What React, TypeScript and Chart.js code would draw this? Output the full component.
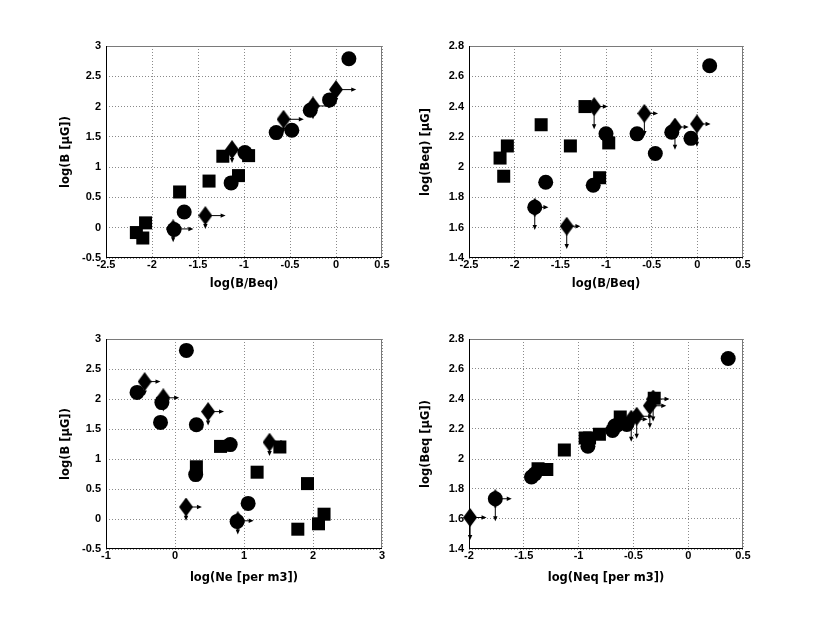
import React, { useEffect, useRef } from "react";
import { Chart, registerables } from "chart.js";
Chart.register(...registerables);

// ---------- Panel 1: log(B/Beq) vs log(B) ----------
const sq1X = [-2.17, -2.1, -2.07, -1.7, -1.38, -1.23, -1.06, -0.95];
const sq1Y = [-0.08, -0.17, 0.08, 0.59, 0.77, 1.18, 0.86, 1.19];
const ci1X = [-1.76, -1.65, -1.14, -0.99, -0.65, -0.48, -0.28, -0.07, 0.14];
const ci1Y = [-0.03, 0.26, 0.74, 1.24, 1.57, 1.61, 1.94, 2.11, 2.79];
const di1X = [-1.77, -1.42, -1.13, -0.57, -0.25, 0.0];
const di1Y = [-0.02, 0.2, 1.29, 1.79, 2.01, 2.28];

// ---------- Panel 2: log(B/Beq) vs log(Beq) ----------
const sq2X = [-2.16, -2.08, -2.12, -1.71, -1.39, -1.23, -1.07, -0.97];
const sq2Y = [2.06, 2.14, 1.94, 2.28, 2.14, 2.4, 1.93, 2.16];
const ci2X = [-1.78, -1.66, -1.14, -1.0, -0.66, -0.46, -0.28, -0.07, 0.135];
const ci2Y = [1.735, 1.9, 1.88, 2.22, 2.22, 2.09, 2.23, 2.19, 2.67];
const di2X = [-1.78, -1.43, -1.13, -0.58, -0.245, -0.005];
const di2Y = [1.735, 1.61, 2.4, 2.355, 2.265, 2.285];

// ---------- Panel 3: log(Ne) vs log(B) ----------
const sq3X = [0.66, 1.52, 1.19, 1.92, 0.31, 2.16, 2.08, 1.78];
const sq3Y = [1.21, 1.2, 0.78, 0.59, 0.87, 0.08, -0.08, -0.17];
const ci3X = [0.165, -0.55, -0.19, -0.21, 0.31, 0.8, 0.3, 1.06, 0.9];
const ci3Y = [2.81, 2.11, 1.94, 1.61, 1.57, 1.24, 0.74, 0.26, -0.04];
const di3X = [-0.44, -0.17, 0.48, 1.37, 0.16, 0.91];
const di3Y = [2.29, 2.02, 1.79, 1.28, 0.2, -0.03];

// ---------- Panel 4: log(Neq) vs log(Beq) ----------
const sq4X = [-1.13, -1.37, -1.29, -0.94, -0.9, -0.81, -0.62, -0.31];
const sq4Y = [2.06, 1.935, 1.93, 2.14, 2.14, 2.165, 2.28, 2.405];
const ci4X = [-1.76, -1.43, -1.4, -0.915, -0.69, -0.67, -0.65, -0.56, 0.365];
const ci4Y = [1.735, 1.88, 1.9, 2.085, 2.19, 2.22, 2.225, 2.23, 2.67];
const di4X = [-1.99, -1.76, -0.52, -0.47, -0.35, -0.32];
const di4Y = [1.61, 1.735, 2.265, 2.285, 2.355, 2.4];

// ---------- Tick labels ----------
const xTicksBB = [-2.5, -2, -1.5, -1, -0.5, 0, 0.5];
const yTicksB = [-0.5, 0, 0.5, 1, 1.5, 2, 2.5, 3];
const yTicksBeq = [1.4, 1.6, 1.8, 2, 2.2, 2.4, 2.6, 2.8];
const xTicksNe = [-1, 0, 1, 2, 3];
const xTicksNeq = [-2, -1.5, -1, -0.5, 0, 0.5];

const FONT = "'DejaVu Sans', sans-serif";
const TICK_FONT = "'Liberation Sans', Arial, sans-serif";
const TITLE_SIZE = 11.5;
const TICK_SIZE = 11;

function zip(xs: number[], ys: number[]) {
  return xs.map((x, i) => ({ x, y: ys[i] }));
}

function makeDiamond(w: number, h: number) {
  const c = document.createElement("canvas");
  c.width = w;
  c.height = h;
  const g = c.getContext("2d")!;
  g.fillStyle = "#000";
  g.beginPath();
  g.moveTo(w / 2, 0);
  g.lineTo(w, h / 2);
  g.lineTo(w / 2, h);
  g.lineTo(0, h / 2);
  g.closePath();
  g.fill();
  return c;
}

const arrowPlugin = {
  id: "limitArrows",
  afterDatasetsDraw(chart: any, _args: any, opts: any) {
    const ds = chart.data.datasets[opts.datasetIndex];
    if (!ds) return;
    const xs = chart.scales.x;
    const ys = chart.scales.y;
    const ctx = chart.ctx;
    ctx.save();
    ctx.strokeStyle = "#000";
    ctx.fillStyle = "#000";
    ctx.lineWidth = 1;
    const head = (x: number, y: number, dx: number, dy: number) => {
      const L = 5, W = 2.2;
      ctx.beginPath();
      ctx.moveTo(x, y);
      ctx.lineTo(x - dx * L - dy * W, y - dy * L + dx * W);
      ctx.lineTo(x - dx * L + dy * W, y - dy * L - dx * W);
      ctx.closePath();
      ctx.fill();
    };
    for (const p of ds.data) {
      const px = xs.getPixelForValue(p.x);
      const py = ys.getPixelForValue(p.y);
      const pxr = xs.getPixelForValue(p.x + opts.dx);
      const pyd = ys.getPixelForValue(p.y - opts.dy);
      ctx.beginPath();
      ctx.moveTo(px, py);
      ctx.lineTo(pxr - 3, py);
      ctx.moveTo(px, py);
      ctx.lineTo(px, pyd - 3);
      ctx.stroke();
      head(pxr, py, 1, 0);
      head(px, pyd, 0, 1);
    }
    ctx.restore();
  },
};

const framePlugin = {
  id: "frame",
  afterDraw(chart: any) {
    const { left, top, right, bottom } = chart.chartArea;
    const ctx = chart.ctx;
    ctx.save();
    ctx.lineWidth = 1;
    ctx.strokeStyle = "#7a7a7a";
    ctx.beginPath();
    ctx.moveTo(left, Math.round(top) + 0.5);
    ctx.lineTo(right, Math.round(top) + 0.5);
    ctx.moveTo(Math.round(right) - 0.5, top);
    ctx.lineTo(Math.round(right) - 0.5, bottom);
    ctx.stroke();
    ctx.strokeStyle = "#000";
    ctx.beginPath();
    ctx.moveTo(Math.round(left) + 0.5, top);
    ctx.lineTo(Math.round(left) + 0.5, bottom);
    ctx.moveTo(left, Math.round(bottom) - 0.5);
    ctx.lineTo(right, Math.round(bottom) - 0.5);
    ctx.stroke();
    ctx.restore();
  },
};

type Spec = {
  left: number; top: number; right: number; bottom: number;
  canvasLeft: number;
  xMin: number; xMax: number; xTicks: number[];
  yMin: number; yMax: number; yTicks: number[];
  xTitle: string; yTitle: string;
  yTitleCenter: number; xTitleCenter: number;
  sx: number[]; sy: number[]; cx: number[]; cy: number[]; dx: number[]; dy: number[];
  arrowDx: number; arrowDy: number;
};

const PAD_TOP = 20;
const PAD_RIGHT = 20;
const XAXIS_H = 40;

function Panel({ s }: { s: Spec }) {
  const ref = useRef<HTMLCanvasElement>(null);
  const canvasTop = s.top - PAD_TOP;
  const W = s.right + PAD_RIGHT - s.canvasLeft;
  const H = s.bottom + XAXIS_H - canvasTop;
  useEffect(() => {
    const lh = TITLE_SIZE * 1.2;
    const diamond = makeDiamond(14, 19);
    const chart = new Chart(ref.current!, {
      type: "scatter",
      data: {
        datasets: [
          {
            data: zip(s.dx, s.dy),
            pointStyle: diamond as any,
            pointRadius: 9,
            backgroundColor: "#000",
            borderColor: "#000",
            clip: false,
          },
          {
            data: zip(s.cx, s.cy),
            pointStyle: "circle",
            pointRadius: 7.5,
            borderWidth: 0,
            backgroundColor: "#000",
            borderColor: "#000",
            clip: false,
          },
          {
            data: zip(s.sx, s.sy),
            pointStyle: "rect",
            pointRadius: 9.2,
            borderWidth: 0,
            backgroundColor: "#000",
            borderColor: "#000",
            clip: false,
          },
        ],
      },
      options: {
        animation: false,
        responsive: false,
        devicePixelRatio: 1,
        events: [],
        layout: { padding: { left: 0, top: PAD_TOP, right: PAD_RIGHT, bottom: 0 } },
        plugins: {
          legend: { display: false },
          tooltip: { enabled: false },
          limitArrows: { datasetIndex: 0, dx: s.arrowDx, dy: s.arrowDy },
        } as any,
        scales: {
          x: {
            type: "linear",
            min: s.xMin,
            max: s.xMax,
            afterBuildTicks: (sc: any) => {
              sc.ticks = s.xTicks.map((v) => ({ value: v }));
            },
            afterFit: (sc: any) => {
              sc.height = XAXIS_H;
            },
            ticks: {
              callback: (v: any) => String(v),
              font: { family: TICK_FONT, size: TICK_SIZE, weight: "bold" },
              color: "#000",
              padding: 0,
              maxRotation: 0,
              autoSkip: false,
            },
            grid: { color: "#8a8a8a", lineWidth: 1, drawTicks: false },
            border: { display: false, dash: [1, 2] },
            title: {
              display: true,
              text: s.xTitle,
              color: "#000",
              font: { family: FONT, size: TITLE_SIZE, weight: "bold" },
              padding: { top: 0, bottom: s.bottom + XAXIS_H - s.xTitleCenter - lh / 2 },
            },
          },
          y: {
            type: "linear",
            min: s.yMin,
            max: s.yMax,
            afterBuildTicks: (sc: any) => {
              sc.ticks = s.yTicks.map((v) => ({ value: v }));
            },
            afterFit: (sc: any) => {
              sc.width = s.left - s.canvasLeft;
            },
            ticks: {
              callback: (v: any) => String(v),
              font: { family: TICK_FONT, size: TICK_SIZE, weight: "bold" },
              color: "#000",
              padding: 5,
              autoSkip: false,
            },
            grid: { color: "#8a8a8a", lineWidth: 1, drawTicks: false },
            border: { display: false, dash: [1, 2] },
            title: {
              display: true,
              text: s.yTitle,
              color: "#000",
              font: { family: FONT, size: TITLE_SIZE, weight: "bold" },
              padding: { top: s.yTitleCenter - s.canvasLeft - lh / 2, bottom: 0 },
            },
          },
        },
      } as any,
      plugins: [arrowPlugin, framePlugin],
    });
    return () => chart.destroy();
  }, []);
  return (
    <canvas
      ref={ref}
      width={W}
      height={H}
      style={{ position: "absolute", left: s.canvasLeft, top: canvasTop, width: W, height: H }}
    />
  );
}

const specs: Spec[] = [
  {
    left: 106, top: 46, right: 382, bottom: 258, canvasLeft: 0,
    xMin: -2.5, xMax: 0.5, xTicks: xTicksBB, yMin: -0.5, yMax: 3, yTicks: yTicksB,
    xTitle: "log(B/Beq)", yTitle: "log(B [μG])", yTitleCenter: 66, xTitleCenter: 284,
    sx: sq1X, sy: sq1Y, cx: ci1X, cy: ci1Y, dx: di1X, dy: di1Y, arrowDx: 0.22, arrowDy: 0.22,
  },
  {
    left: 469, top: 46, right: 743, bottom: 258, canvasLeft: 400,
    xMin: -2.5, xMax: 0.5, xTicks: xTicksBB, yMin: 1.4, yMax: 2.8, yTicks: yTicksBeq,
    xTitle: "log(B/Beq)", yTitle: "log(Beq) [μG]", yTitleCenter: 426, xTitleCenter: 284,
    sx: sq2X, sy: sq2Y, cx: ci2X, cy: ci2Y, dx: di2X, dy: di2Y, arrowDx: 0.15, arrowDy: 0.15,
  },
  {
    left: 106, top: 339, right: 382, bottom: 549, canvasLeft: 0,
    xMin: -1, xMax: 3, xTicks: xTicksNe, yMin: -0.5, yMax: 3, yTicks: yTicksB,
    xTitle: "log(Ne [per m3])", yTitle: "log(B [μG])", yTitleCenter: 66, xTitleCenter: 578,
    sx: sq3X, sy: sq3Y, cx: ci3X, cy: ci3Y, dx: di3X, dy: di3Y, arrowDx: 0.23, arrowDy: 0.23,
  },
  {
    left: 469, top: 339, right: 743, bottom: 549, canvasLeft: 400,
    xMin: -2, xMax: 0.5, xTicks: xTicksNeq, yMin: 1.4, yMax: 2.8, yTicks: yTicksBeq,
    xTitle: "log(Neq [per m3])", yTitle: "log(Beq [μG])", yTitleCenter: 426, xTitleCenter: 578,
    sx: sq4X, sy: sq4Y, cx: ci4X, cy: ci4Y, dx: di4X, dy: di4Y, arrowDx: 0.15, arrowDy: 0.15,
  },
];

export default function App() {
  return (
    <div style={{ position: "absolute", left: 0, top: 0, width: 822, height: 617, background: "#fff", overflow: "hidden" }}>
      {specs.map((s, i) => (
        <Panel key={i} s={s} />
      ))}
    </div>
  );
}
